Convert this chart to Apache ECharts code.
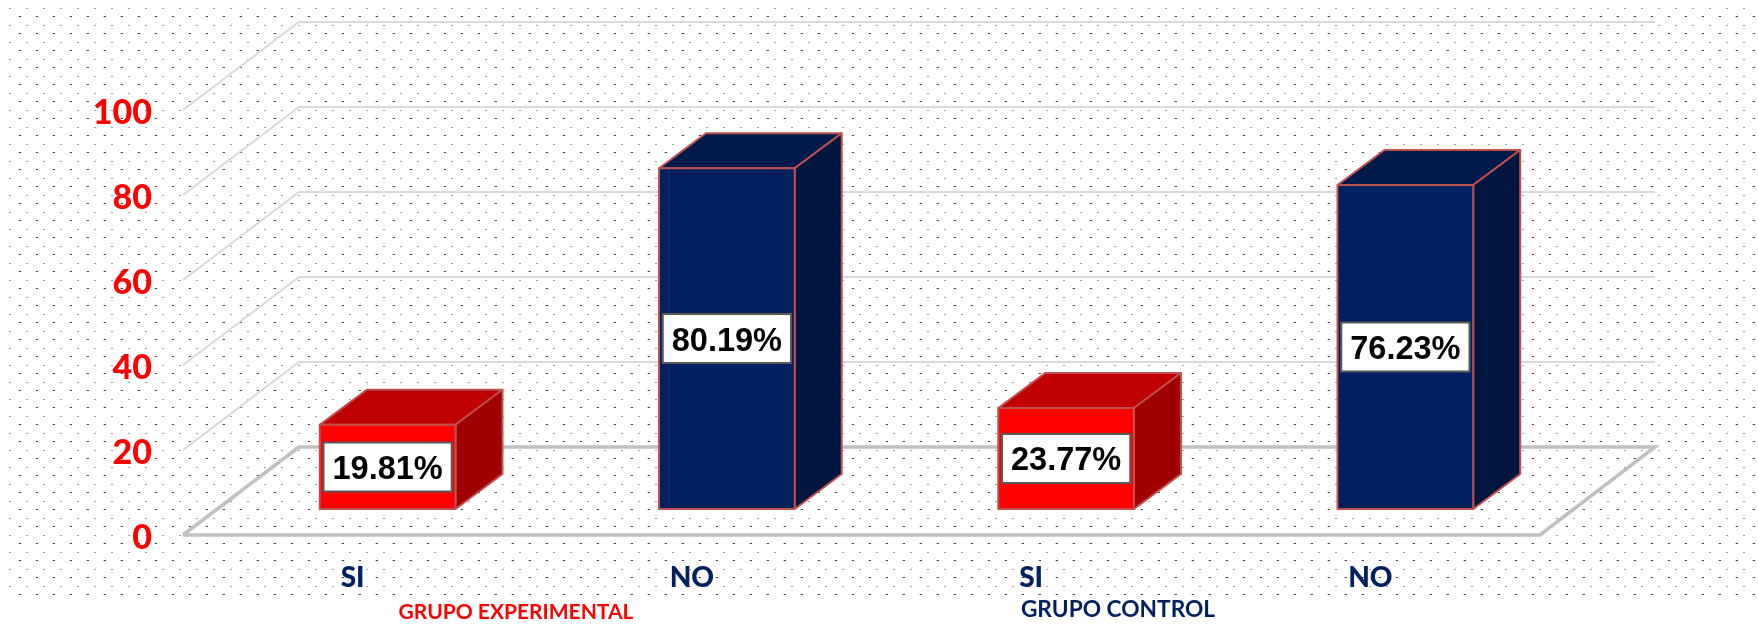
<!DOCTYPE html>
<html>
<head>
<meta charset="utf-8">
<style>html,body{margin:0;padding:0;background:#fff}#chart{width:1758px;height:632px}</style>
<script src="https://cdn.jsdelivr.net/npm/echarts@6/dist/echarts.min.js"></script>
</head>
<body>
<div id="chart"></div>
<script>
// Respuesta SI / NO por grupo, en porcentaje
const categories = ['SI', 'NO', 'SI', 'NO'];
const percentages = [19.81, 80.19, 23.77, 76.23];
const yTicks = [0, 20, 40, 60, 80, 100];
const groupLabels = ['GRUPO EXPERIMENTAL', 'GRUPO CONTROL'];

const RED = { front: '#ff0000', top: '#c00000', side: '#a00000' };
const BLUE = { front: '#002060', top: '#001a4c', side: '#00163f' };
const EDGE = '#c0504d';

// Oblique projection offsets for the floor and for each box
const WALL_DX = 116, WALL_DY = -88;
const BASE_DX = 35, BASE_DY = -26;
const BOX_DX = 47, BOX_DY = -35;

// Dotted paper tile: two staggered rows of tiny dots
function dotTile() {
  const c = document.createElement('canvas');
  c.width = 17; c.height = 17;
  const g = c.getContext('2d');
  g.fillStyle = '#a0a0a0';
  g.fillRect(9, 8, 2, 1);
  g.fillStyle = '#c4c4c4';
  g.fillRect(1, 16, 3, 2);
  g.fillStyle = '#444444';
  g.fillRect(2, 16, 2, 1);
  return c;
}

function renderGrid(params, api) {
  const v = api.value(1);
  const cs = params.coordSys;
  const y = api.coord([0, v])[1];
  const left = cs.x, right = cs.x + cs.width;
  const isFloor = v === 0;
  const points = isFloor
    ? [[left, y], [right, y], [right + WALL_DX - 1, y + WALL_DY], [left + WALL_DX, y + WALL_DY], [left, y]]
    : [[left, y], [left + WALL_DX, y + WALL_DY], [right + WALL_DX - 1, y + WALL_DY]];
  return {
    type: 'polyline',
    shape: { points: points },
    style: { fill: 'none', stroke: isFloor ? '#c0c0c0' : '#dadada', lineWidth: isFloor ? 3.5 : 2 }
  };
}

function renderBox(params, api) {
  const i = api.value(0), v = api.value(1);
  const pal = i % 2 === 0 ? RED : BLUE;
  const w = api.size([1, 0])[0] * 0.4;
  const c = api.coord([i, v]);
  const z = api.coord([i, 0]);
  const x0 = c[0] + BASE_DX - w / 2, x1 = x0 + w;
  const yb = z[1] + BASE_DY, yt = c[1] + BASE_DY;
  const edge = { stroke: EDGE, lineWidth: 2, lineJoin: 'round' };
  return {
    type: 'group',
    children: [
      { type: 'polygon', shape: { points: [[x0, yt], [x1, yt], [x1 + BOX_DX, yt + BOX_DY], [x0 + BOX_DX, yt + BOX_DY]] },
        style: Object.assign({ fill: pal.top }, edge) },
      { type: 'polygon', shape: { points: [[x1, yt], [x1 + BOX_DX, yt + BOX_DY], [x1 + BOX_DX, yb + BOX_DY], [x1, yb]] },
        style: Object.assign({ fill: pal.side }, edge) },
      { type: 'rect', shape: { x: x0, y: yt, width: w, height: yb - yt },
        style: Object.assign({ fill: pal.front }, edge) },
      { type: 'text', x: (x0 + x1) / 2, y: (yt + yb) / 2 - 23.5,
        style: {
          text: v.toFixed(2) + '%',
          font: 'bold 32.5px "Liberation Sans", Arial, sans-serif',
          lineHeight: 33,
          fill: '#000', align: 'center', verticalAlign: 'top',
          backgroundColor: '#fff', borderColor: '#595959', borderWidth: 2,
          padding: [10, 8, 4, 8]
        } }
    ]
  };
}

const chart = echarts.init(document.getElementById('chart'), null, { renderer: 'canvas' });
chart.setOption({
  animation: false,
  backgroundColor: '#fff',
  grid: { left: 183, right: 218, top: 110, bottom: 97, containLabel: false },
  xAxis: {
    type: 'category', data: categories,
    axisLine: { show: false }, axisTick: { show: false }, splitLine: { show: false },
    axisLabel: { color: '#002060', fontFamily: 'Lato', fontWeight: 900, fontSize: 28, margin: 29 }
  },
  yAxis: {
    type: 'value', min: 0, max: 100, interval: 20,
    axisLine: { show: false }, axisTick: { show: false }, splitLine: { show: false },
    axisLabel: { color: '#ff0000', fontFamily: 'Lato', fontWeight: 900, fontSize: 34, margin: 31,
      verticalAlign: 'top', lineHeight: 6 }
  },
  graphic: [
    { type: 'rect', z: -10, silent: true, shape: { x: 5, y: 4, width: 1753, height: 593 },
      style: { fill: { image: dotTile(), repeat: 'repeat' } } },
    { type: 'text', z: 5, silent: true, x: 516, y: 612,
      style: { text: groupLabels[0], font: 'bold 21px Lato', fill: '#ff0000', align: 'center', verticalAlign: 'middle' } },
    { type: 'text', z: 5, silent: true, x: 1118, y: 610,
      style: { text: groupLabels[1], font: 'bold 22.7px Lato', fill: '#002060', align: 'center', verticalAlign: 'middle' } }
  ],
  series: [
    { type: 'custom', name: 'rejilla', z: 1, silent: true, renderItem: renderGrid,
      data: yTicks.map(t => [0, t]), encode: { x: 0, y: 1 } },
    { type: 'custom', name: 'porcentaje', z: 2, silent: true, renderItem: renderBox,
      data: percentages.map((p, i) => [i, p]), encode: { x: 0, y: 1 } }
  ]
});
</script>
</body>
</html>
